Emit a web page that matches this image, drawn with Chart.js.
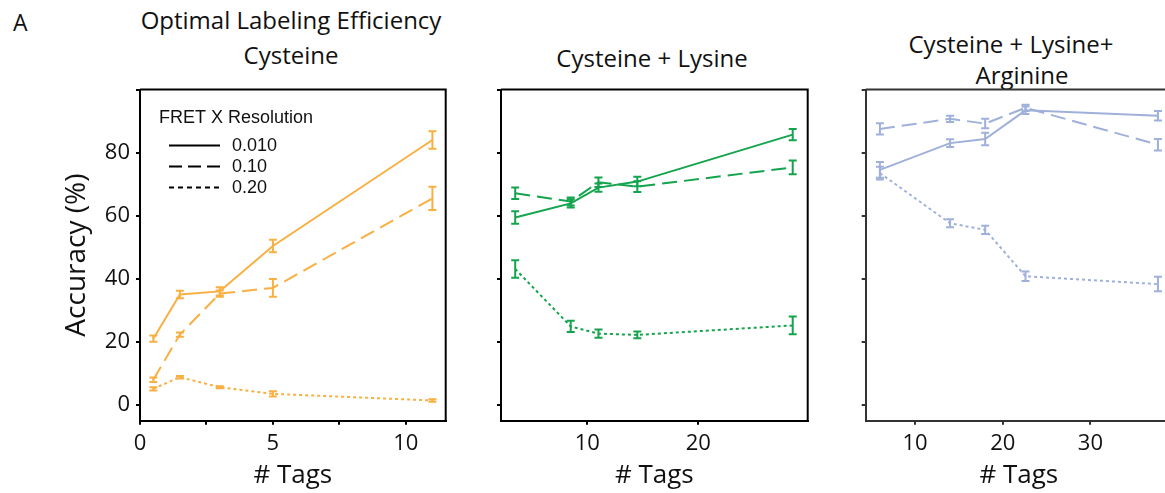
<!DOCTYPE html>
<html>
<head>
<meta charset="utf-8">
<script src="https://cdn.jsdelivr.net/npm/chart.js@4.4.1/dist/chart.umd.min.js"></script>
<style>
  html, body { margin: 0; padding: 0; background: #fff; width: 1165px; height: 493px; overflow: hidden; }
  .panel { position: absolute; top: 0; height: 493px; }
  .lbl { position: absolute; font-family: "Open Sans", sans-serif; font-size: 24px; color: #111; white-space: nowrap; line-height: 1; transform: translateX(-50%); }
</style>
</head>
<body>
<div class="lbl" style="left:13px;top:11px;font-size:23px;transform:none;">A</div>
<div class="lbl" style="left:291px;top:7.5px;">Optimal Labeling Efficiency</div>
<div class="lbl" style="left:291px;top:43px;">Cysteine</div>
<div class="lbl" style="left:652px;top:45.6px;">Cysteine + Lysine</div>
<div class="lbl" style="left:1011px;top:32px;">Cysteine + Lysine+</div>
<div class="lbl" style="left:1022px;top:62.5px;">Arginine</div>

<div class="panel" style="left:0;width:460px;"><canvas id="cys"></canvas></div>
<div class="panel" style="left:460px;width:360px;"><canvas id="cysLys"></canvas></div>
<div class="panel" style="left:820px;width:370px;"><canvas id="cysLysArg"></canvas></div>

<script>
// FRET X resolution levels (legend order: solid, dashed, dotted)
const resolutions = ['0.010', '0.10', '0.20'];

// Cysteine only
const tagsCys = [0.5, 1.5, 3, 5, 11];
const cysRes010 = [21.0, 35.0, 36.0, 50.4, 84.0];
const cysRes010Err = [1.0, 1.2, 1.3, 2.0, 2.8];
const cysRes10 = [8.0, 22.3, 35.3, 37.1, 65.5];
const cysRes10Err = [0.7, 0.7, 1.0, 2.8, 3.7];
const cysRes20 = [5.1, 8.8, 5.6, 3.5, 1.4];
const cysRes20Err = [0.5, 0.4, 0.3, 0.8, 0.4];

// Cysteine + Lysine
const tagsCysLys = [3.5, 8.5, 11, 14.5, 28.5];
const cysLysRes010 = [59.4, 63.9, 68.9, 70.8, 85.7];
const cysLysRes010Err = [2.0, 1.3, 1.3, 1.5, 1.8];
const cysLysRes10 = [67.1, 64.5, 70.6, 69.2, 75.3];
const cysLysRes10Err = [1.8, 1.3, 1.5, 1.7, 2.2];
const cysLysRes20 = [43.1, 24.9, 22.6, 22.2, 25.2];
const cysLysRes20Err = [2.8, 1.8, 1.3, 1.1, 2.8];

// Cysteine + Lysine + Arginine
const tagsCysLysArg = [6, 14, 18, 22.6, 37.7];
const cysLysArgRes010 = [74.5, 83.0, 84.3, 93.4, 91.7];
const cysLysArgRes010Err = [2.5, 1.2, 2.0, 1.2, 1.5];
const cysLysArgRes10 = [87.5, 90.7, 89.2, 94.2, 82.5];
const cysLysArgRes10Err = [1.8, 1.0, 1.5, 1.0, 1.8];
const cysLysArgRes20 = [73.5, 57.6, 55.5, 40.8, 38.3];
const cysLysArgRes20Err = [2.0, 1.3, 1.3, 1.5, 2.3];

const dashes = [[], [15, 7], [3, 3]];
const tickFont = { family: 'Open Sans', size: 22 };

// vertical error bars with caps, in the series colour
const errorBars = {
  id: 'errorBars',
  afterDatasetsDraw(chart) {
    const { ctx, scales: { x, y } } = chart;
    chart.data.datasets.forEach(ds => {
      ctx.save();
      ctx.strokeStyle = ds.borderColor;
      ctx.lineWidth = 2;
      ds.data.forEach((p, j) => {
        const px = x.getPixelForValue(p.x);
        const hi = y.getPixelForValue(p.y + ds.errors[j]);
        const lo = y.getPixelForValue(p.y - ds.errors[j]);
        ctx.beginPath();
        ctx.moveTo(px, hi); ctx.lineTo(px, lo);
        ctx.moveTo(px - 4, hi); ctx.lineTo(px + 4, hi);
        ctx.moveTo(px - 4, lo); ctx.lineTo(px + 4, lo);
        ctx.stroke();
      });
      ctx.restore();
    });
  }
};

// closes the plot box on the top and right
const frame = {
  id: 'frame',
  afterDraw(chart, args, opts) {
    const { ctx, chartArea: a } = chart;
    ctx.save();
    ctx.strokeStyle = opts.color;
    ctx.lineWidth = 2;
    ctx.beginPath();
    ctx.moveTo(a.left, a.top); ctx.lineTo(a.right, a.top); ctx.lineTo(a.right, a.bottom);
    ctx.stroke();
    ctx.restore();
  }
};

// "FRET X Resolution" key with line-style samples
const resolutionKey = {
  id: 'resolutionKey',
  afterDraw(chart, args, opts) {
    if (!opts.show) return;
    const { ctx, chartArea: a } = chart;
    ctx.save();
    ctx.fillStyle = '#111';
    ctx.font = '18px "Liberation Sans", Arial, sans-serif';
    ctx.textBaseline = 'alphabetic';
    ctx.fillText('FRET X Resolution', a.left + 19, a.top + 33);
    ctx.strokeStyle = '#000';
    ctx.lineWidth = 2;
    resolutions.forEach((r, i) => {
      const yy = a.top + 56 + i * 21;
      ctx.setLineDash(i === 0 ? [] : (i === 1 ? [13, 6] : [5, 4]));
      ctx.beginPath();
      ctx.moveTo(a.left + 29, yy); ctx.lineTo(a.left + 80, yy);
      ctx.stroke();
      ctx.setLineDash([]);
      ctx.textBaseline = 'middle';
      ctx.fillText(r, a.left + 92, yy + 1);
    });
    ctx.restore();
  }
};

function series(tags, vals, errs, i, color) {
  return {
    data: tags.map((t, k) => ({ x: t, y: vals[k] })),
    errors: errs,
    borderColor: color,
    borderWidth: 2,
    borderDash: dashes[i],
    pointRadius: 0,
    tension: 0,
    fill: false
  };
}

function panel(id, cfg) {
  const axisColor = cfg.axisColor;
  new Chart(document.getElementById(id), {
    type: 'line',
    data: { datasets: cfg.datasets },
    plugins: [errorBars, frame, resolutionKey],
    options: {
      responsive: true,
      maintainAspectRatio: false,
      animation: false,
      layout: { padding: { top: 89.5, right: cfg.padRight, bottom: 0, left: 0 } },
      plugins: {
        legend: { display: false },
        tooltip: { enabled: false },
        frame: { color: axisColor },
        resolutionKey: { show: !!cfg.key }
      },
      scales: {
        x: {
          type: 'linear',
          min: cfg.xMin,
          max: cfg.xMax,
          afterFit: s => { s.height = 72.3; },
          border: { display: true, color: axisColor, width: 2 },
          grid: { drawOnChartArea: false, drawTicks: true, tickLength: 4, color: axisColor, lineWidth: 2 },
          ticks: {
            stepSize: cfg.xStep,
            includeBounds: false,
            color: '#111',
            font: tickFont,
            padding: 6,
            maxRotation: 0,
            autoSkip: false,
            callback: v => (v % cfg.xLabelEvery === 0 ? v : '')
          },
          title: {
            display: true,
            text: '# Tags',
            color: '#111',
            font: { family: 'Open Sans', size: 26 },
            padding: { top: 0, bottom: 1.4 }
          }
        },
        y: {
          min: -5,
          max: 100,
          afterFit: s => { s.width = cfg.yWidth; },
          border: { display: true, color: axisColor, width: 2 },
          grid: { drawOnChartArea: false, drawTicks: true, tickLength: 4, color: axisColor, lineWidth: 2 },
          ticks: {
            display: !!cfg.yLabels,
            stepSize: 20,
            includeBounds: false,
            color: '#111',
            font: tickFont,
            padding: 6,
            callback: v => (v === 100 ? '' : v)
          },
          title: {
            display: !!cfg.yLabels,
            text: 'Accuracy (%)',
            color: '#111',
            font: { family: 'Open Sans', size: 28 },
            padding: { top: 60, bottom: 0 }
          }
        }
      }
    }
  });
}

const orange = '#F9B043';
const green = '#14A44D';
const lavender = '#9FB0DA';

panel('cys', {
  datasets: [
    series(tagsCys, cysRes010, cysRes010Err, 0, orange),
    series(tagsCys, cysRes10, cysRes10Err, 1, orange),
    series(tagsCys, cysRes20, cysRes20Err, 2, orange)
  ],
  xMin: 0, xMax: 11.5, xStep: 2.5, xLabelEvery: 5,
  yWidth: 140, padRight: 14.3, yLabels: true, key: true, axisColor: '#000'
});

panel('cysLys', {
  datasets: [
    series(tagsCysLys, cysLysRes010, cysLysRes010Err, 0, green),
    series(tagsCysLys, cysLysRes10, cysLysRes10Err, 1, green),
    series(tagsCysLys, cysLysRes20, cysLysRes20Err, 2, green)
  ],
  xMin: 2.22, xMax: 29.85, xStep: 10, xLabelEvery: 10,
  yWidth: 41, padRight: 12.3, axisColor: '#000'
});

panel('cysLysArg', {
  datasets: [
    series(tagsCysLysArg, cysLysArgRes010, cysLysArgRes010Err, 0, lavender),
    series(tagsCysLysArg, cysLysArgRes10, cysLysArgRes10Err, 1, lavender),
    series(tagsCysLysArg, cysLysArgRes20, cysLysArgRes20Err, 2, lavender)
  ],
  xMin: 4.38, xMax: 39.3, xStep: 10, xLabelEvery: 10,
  yWidth: 45.7, padRight: 18, axisColor: '#333'
});
</script>
</body>
</html>
